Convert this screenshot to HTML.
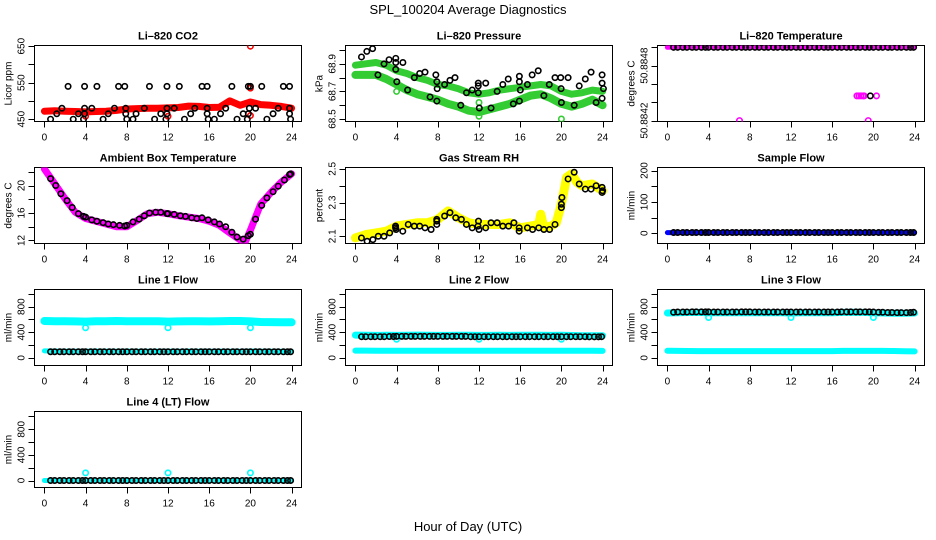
<!DOCTYPE html>
<html><head><meta charset="utf-8"><style>
html,body{margin:0;padding:0;background:#fff;}
svg{display:block;font-family:"Liberation Sans",Arial,sans-serif;}
</style></head><body>
<svg id="chart" width="936" height="540" viewBox="0 0 936 540">
<text x="468" y="14" text-anchor="middle" font-size="13">SPL_100204  Average Diagnostics</text>
<text x="468" y="531" text-anchor="middle" font-size="13">Hour of Day (UTC)</text>
</svg>
<script>
// ---------- data ----------
const xTicks = [0,4,8,12,16,20,24];
const hours25 = [0,1,2,3,4,5,6,7,8,9,10,11,12,13,14,15,16,17,18,19,20,21,22,23,24];
const blackHours = [0.6,1.0,1.5,1.9,2.4,2.8,3.3,3.7,4.0,4.5,
 4.9,5.4,5.8,6.3,6.7,7.2,7.6,8.0,8.5,8.9,
 9.4,9.8,10.3,10.7,11.2,11.6,12.0,12.5,12.9,13.4,
 13.8,14.3,14.7,15.2,15.6,16.0,16.5,16.9,17.4,17.8,
 18.3,18.7,19.2,19.6,20.0,20.5,20.9,21.4,21.8,22.3,
 22.7,23.2,23.6,23.9];

// CO2
const co2Band = [472,473,472,471,470,471,472,474,478,479,480,480,481,482,486,485,482,483,500,488,497,490,488,485,480];
const co2OutHours = [20,20,4,12,20];
const co2OutVals = [650,535,458,458,460];
const co2BlackHours = [2.3,3.9,5.1,7.2,7.8,10.2,11.9,13.1,15.3,15.8,18.2,19.8,20,21.1,23.2,23.8,
 1.7,3.9,4.6,6.8,7.9,9.7,11.9,12.6,14.6,15.8,17.6,19.9,20.5,22.7,23.8,
 1.2,3.3,3.9,6.2,7.9,8.9,11.3,11.9,14.2,15.8,17.1,19.3,19.8,22.2,23.8,
 0.6,2.8,3.8,5.7,8.0,8.6,10.7,11.8,13.6,15.9,16.5,18.7,19.7,21.6,23.9];
const co2BlackVals = [540,540,540,540,540,540,540,540,540,540,540,540,540,540,540,540,
 480,480,480,480,480,480,480,480,480,480,480,480,480,480,480,
 465,465,465,465,465,465,465,465,465,465,465,465,465,465,465,
 450,450,450,450,450,450,450,450,450,450,450,450,450,450,450];

// Pressure
const presUpper = [68.89,68.90,68.91,68.89,68.85,68.83,68.80,68.78,68.75,68.74,68.72,68.69,68.68,68.69,68.71,68.72,68.73,68.74,68.75,68.74,68.70,68.68,68.69,68.71,68.70];
const presLower = [68.82,68.82,68.82,68.79,68.75,68.71,68.68,68.66,68.64,68.61,68.59,68.56,68.55,68.57,68.59,68.61,68.64,68.67,68.68,68.65,68.61,68.59,68.61,68.64,68.60];
const presOutHours = [4.0,12.0,12.0,20.0];
const presOutVals = [68.70,68.62,68.52,68.50];
const presBlackHours = [0.59,1.11,1.67,2.19,2.78,3.27,3.92,3.92,3.92,4.02,4.61,5.07,5.72,6.24,6.76,7.25,7.81,7.91,7.91,7.94,
 8.66,9.18,9.67,10.23,10.78,11.34,11.93,11.93,11.93,12.03,12.65,13.17,13.76,14.31,14.84,15.33,15.92,15.92,15.92,16.01,
 16.70,17.16,17.75,18.30,18.82,19.38,19.93,19.97,20.0,20.65,21.24,21.73,22.32,22.88,23.37,23.95,23.95,23.95,24.08];
const presBlackVals = [68.95,68.99,69.01,68.82,68.90,68.93,68.91,68.94,68.86,68.77,68.91,68.71,68.80,68.83,68.84,68.66,68.82,68.77,68.63,68.72,
 68.75,68.78,68.80,68.60,68.69,68.71,68.76,68.74,68.69,68.58,68.76,68.58,68.70,68.75,68.79,68.61,68.81,68.77,68.63,68.71,
 68.75,68.82,68.85,68.67,68.75,68.80,68.80,68.72,68.62,68.80,68.60,68.74,68.79,68.84,68.62,68.82,68.76,68.65,68.72];

// Li-820 temperature
const tempBand = [50.8850,50.8850,50.8850,50.8850,50.8850,50.8850,50.8850,50.8850,50.8850,50.8850,50.8850,50.8850,50.8850,50.8850,50.8850,50.8850,50.8850,50.8850,50.8850,50.8850,50.8850,50.8850,50.8850,50.8850,50.8850];
const tempPinkHours = [18.4,18.6,18.8,19.0,19.1,20.3,7.0,19.5];
const tempPinkVals = [50.88447,50.88447,50.88447,50.88447,50.88447,50.88447,50.8842,50.8842];
const tempBlackVals = [50.8850,50.8850,50.8850,50.8850,50.8850,50.8850,50.8850,50.8850,50.8850,50.8850,
 50.8850,50.8850,50.8850,50.8850,50.8850,50.8850,50.8850,50.8850,50.8850,50.8850,
 50.8850,50.8850,50.8850,50.8850,50.8850,50.8850,50.8850,50.8850,50.8850,50.8850,
 50.8850,50.8850,50.8850,50.8850,50.8850,50.8850,50.8850,50.8850,50.8850,50.8850,
 50.8850,50.8850,50.8850,50.8850,50.8850,50.8850,50.8850,50.8850,50.8850,50.8850,
 50.8850,50.8850,50.8850,50.8850];
const tempBlackExtraHours = [19.7];
const tempBlackExtraVals = [50.88447];

// Ambient box temperature
const ambHours = [0,1,2,3,4,5,6,7,8,9,10,11,12,13,14,15,16,17,18,19,19.5,20,21,22,23,24];
const ambBand = [22.4,20.25,18.1,16.1,15.2,14.8,14.4,14.0,14.0,14.9,15.9,16.1,15.9,15.6,15.4,15.2,14.8,14.2,13.1,12.1,11.8,13.5,17.3,19.0,20.5,21.7];
const ambBlackHours = [0.6,1.1,1.6,2.2,2.7,3.3,3.8,4.0,4.6,5.1,5.7,6.2,6.7,7.3,7.8,8.0,8.6,9.2,9.7,10.2,10.8,11.3,11.9,12.0,12.6,13.2,13.7,14.3,14.8,15.3,15.9,16.5,17.0,17.6,18.2,18.7,19.3,19.8,20.0,20.5,21.1,21.6,22.2,22.7,23.3,23.8,23.9];
const ambBlackVals = [21.0,20.0,18.8,17.8,16.8,15.9,15.5,15.4,15.0,14.8,14.6,14.4,14.3,14.2,14.1,14.2,14.7,15.1,15.6,16.0,16.1,16.1,15.9,15.9,15.8,15.6,15.5,15.3,15.2,15.3,15.0,14.7,14.4,14.0,13.2,12.5,12.2,12.7,12.9,15.1,17.1,18.2,19.1,19.9,20.8,21.6,21.7];

// Gas stream RH
const rhHours = [0,1,2,3,4,5,6,7,8,9,10,11,12,13,14,15,16,17,17.8,18,18.3,19,19.5,20,20.5,21,21.5,22,23,24];
const rhBand = [2.09,2.11,2.12,2.13,2.16,2.17,2.18,2.18,2.20,2.25,2.21,2.18,2.17,2.17,2.17,2.18,2.15,2.16,2.17,2.23,2.15,2.16,2.18,2.29,2.45,2.47,2.42,2.40,2.41,2.37];
const rhBlackHours = [0.59,1.14,1.70,2.22,2.78,3.33,3.9,3.9,3.95,4.6,5.13,5.72,6.24,6.76,7.35,7.9,7.9,7.9,8.66,9.18,9.74,10.29,10.78,11.34,11.9,11.95,12.0,12.65,13.17,13.76,14.31,14.87,15.39,15.9,15.9,16.7,17.2,17.8,18.3,18.85,19.38,20.0,20.0,20.05,20.65,21.24,21.73,22.32,22.88,23.37,23.95,23.95,24.0];
const rhBlackVals = [2.09,2.07,2.08,2.10,2.10,2.12,2.15,2.16,2.14,2.13,2.17,2.16,2.16,2.15,2.14,2.20,2.19,2.17,2.22,2.24,2.21,2.20,2.17,2.15,2.16,2.19,2.14,2.15,2.18,2.18,2.16,2.16,2.18,2.15,2.13,2.15,2.14,2.15,2.14,2.14,2.17,2.27,2.29,2.33,2.44,2.48,2.41,2.38,2.38,2.40,2.39,2.36,2.37];

// Sample flow
const sampleBand = [2,2,2,2,2,2,2,2,2,2,2,2,2,2,2,2,2,2,2,2,2,2,2,2,2];
const sampleBlack = [2,2,2,2,2,2,2,2,2,2,2,2,2,2,2,2,2,2,2,2,2,2,2,2,2,2,2,2,2,2,2,2,2,2,2,2,2,2,2,2,2,2,2,2,2,2,2,2,2,2,2,2,2,2];

// Line flows
const line1High = [575,570,570,568,565,570,572,575,572,570,572,570,565,568,570,570,568,570,575,575,568,560,558,556,555];
const line1Low = [108,106,105,105,105,106,105,105,106,105,105,105,105,105,106,105,105,105,105,105,106,105,105,104,104];
const line1Black = [95,95,95,95,95,95,95,95,95,95,95,95,95,95,95,95,95,95,95,95,95,95,95,95,95,95,95,95,95,95,95,95,95,95,95,95,95,95,95,95,95,95,95,95,95,95,95,95,95,95,95,94,94,94];
const line1OutHours = [4,12,20];
const line1OutVals = [470,470,470];
const line2High = [355,352,350,352,350,352,355,352,350,350,352,352,350,350,352,350,352,352,352,350,352,348,346,345,345];
const line2Low = [112,112,110,110,110,110,110,110,110,110,110,110,110,110,110,110,110,110,110,110,110,110,110,110,108];
const line2Black = [330,330,330,330,330,330,332,332,335,335,335,335,335,335,335,335,335,335,335,335,335,335,335,335,330,330,330,330,330,330,330,330,330,330,330,330,330,330,330,330,330,330,330,330,330,330,330,330,330,330,328,328,328,330];
const line2OutHours = [4,12,20];
const line2OutVals = [290,290,290];
const line3High = [700,705,708,710,705,705,705,705,705,705,705,705,700,705,705,705,705,710,712,710,705,700,695,695,700];
const line3Low = [110,108,106,105,105,105,105,105,105,105,105,105,105,105,105,105,105,108,108,108,108,108,106,104,100];
const line3Black = [712,715,715,715,718,718,718,718,718,715,715,715,715,715,715,718,718,718,715,715,715,715,715,715,715,715,715,715,715,715,715,715,715,715,715,715,715,718,718,718,718,718,718,718,715,712,712,708,708,705,705,705,708,712];
const line3OutHours = [4,12,20];
const line3OutVals = [630,630,630];
const line4Band = [0,0,0,0,0,0,0,0,0,0,0,0,0,0,0,0,0,0,0,0,0,0,0,0,0];
const line4Black = [0,0,0,0,0,0,0,0,0,0,0,0,0,0,0,0,0,0,0,0,0,0,0,0,0,0,0,0,0,0,0,0,0,0,0,0,0,0,0,0,0,0,0,0,0,0,0,0,0,0,0,0,0,0];
const line4OutHours = [4,12,20];
const line4OutVals = [120,120,120];

// ---------- drawing ----------
const NS = 'http://www.w3.org/2000/svg';
const svg = document.getElementById('chart');
const colL = [34.5, 345.5, 657.5];
const rowT = [45.5, 167.5, 289.5, 411.5];
const W = 267, H = 76;

function mk(tag, attrs, parent) {
  const e = document.createElementNS(NS, tag);
  for (const k in attrs) e.setAttribute(k, attrs[k]);
  parent.appendChild(e);
  return e;
}

function panel(name, col, row, title, ylab, yTop, yBot, yTicks, yLabeled) {
  const L = colL[col], T = rowT[row];
  const g = mk('g', {}, svg);
  
  
  const sx = h => L + W * (h + 0.96) / 25.92;
  const sy = v => T + H * (yTop - v) / (yTop - yBot);
  const box = mk('rect', {x: L, y: T, width: W, height: H, fill: 'none', stroke: '#000', 'stroke-width': 1}, g);
  
  
  const tt = mk('text', {x: L + W / 2, y: T - 6, 'text-anchor': 'middle', 'font-size': 11, 'font-weight': 'bold'}, g);
  tt.textContent = title;
  
  
  const yl = mk('text', {x: 0, y: 0, 'text-anchor': 'middle', 'font-size': 10, transform: `translate(${L - 23},${T + H / 2}) rotate(-90)`}, g);
  yl.textContent = ylab;
  
  
  const xa = mk('g', {}, g);
  
  
  const B = T + H;
  xTicks.forEach(t => {
    const xx = Math.round(sx(t)) + 0.5;
    mk('line', {x1: xx, x2: xx, y1: B, y2: B + 6, stroke: '#000'}, xa);
    const tx = mk('text', {x: sx(t), y: B + 19, 'text-anchor': 'middle', 'font-size': 10}, xa);
    tx.textContent = String(t);
    
    
  });
  const ya = mk('g', {}, g);
  
  
  yTicks.forEach(t => {
    const yy = Math.round(sy(t)) + 0.5;
    mk('line', {x1: L - 6, x2: L, y1: yy, y2: yy, stroke: '#000'}, ya);
  });
  yLabeled.forEach(t => {
    const tx = mk('text', {x: 0, y: 0, 'text-anchor': 'middle', 'font-size': 10, transform: `translate(${L - 10},${sy(t)}) rotate(-90)`}, ya);
    tx.textContent = String(t);
    
    
  });
  const clipId = 'clip-' + name;
  const cp = mk('clipPath', {id: clipId}, g);
  mk('rect', {x: L, y: T, width: W, height: H}, cp);
  const plot = mk('g', {'clip-path': `url(#${clipId})`}, g);
  
  
  return {sx, sy, plot, name};
}

function band(p, hrs, vals, color, width, label) {
  const n = Math.min(hrs.length, vals.length);
  const pts = [];
  for (let i = 0; i < n; i++) pts.push(p.sx(hrs[i]).toFixed(1) + ',' + p.sy(vals[i]).toFixed(1));
  const pl = mk('polyline', {points: pts.join(' '), fill: 'none', stroke: color, 'stroke-width': width, 'stroke-linejoin': 'round', 'stroke-linecap': 'round'}, p.plot);
  
  
}

function circles(p, hrs, vals, color, label, r, sw) {
  const n = Math.min(hrs.length, vals.length);
  const gg = mk('g', {}, p.plot);
  
  
  for (let i = 0; i < n; i++) {
    const c = mk('circle', {cx: p.sx(hrs[i]), cy: p.sy(vals[i]), r: r || 2.7, fill: 'none', stroke: color, 'stroke-width': sw || 1.6}, gg);
    
    
  }
}

// Row 1
let p = panel('co2', 0, 0, 'Li\u2013820 CO2', 'Licor ppm', 651.9, 443.7, [450,500,550,600,650], [450,550,650]);
band(p, hours25, co2Band, '#ff0000', 7, 'co2-band');
circles(p, co2OutHours, co2OutVals, '#ff0000', 'co2-outliers');
circles(p, co2BlackHours, co2BlackVals, '#000', 'co2-averages');

p = panel('pressure', 1, 0, 'Li\u2013820 Pressure', 'kPa', 69.033, 68.482, [68.5,68.6,68.7,68.8,68.9,69.0], [68.5,68.7,68.9]);
band(p, hours25, presUpper, '#33cc33', 7, 'pressure-upper-band');
band(p, hours25, presLower, '#33cc33', 8, 'pressure-lower-band');
circles(p, presOutHours, presOutVals, '#33cc33', 'pressure-outliers');
circles(p, presBlackHours, presBlackVals, '#000', 'pressure-averages');

p = panel('li820-temp', 2, 0, 'Li\u2013820 Temperature', 'degrees C', 50.88502, 50.88419, [50.8842,50.8844,50.8846,50.8848,50.885], [50.8842,50.8848]);
band(p, hours25, tempBand, '#ff00ff', 5, 'temp-band');
circles(p, tempPinkHours, tempPinkVals, '#ff00ff', 'temp-pink-points');
circles(p, blackHours, tempBlackVals, '#000', 'temp-averages');
circles(p, tempBlackExtraHours, tempBlackExtraVals, '#000', 'temp-extra');

// Row 2
p = panel('ambient', 0, 1, 'Ambient Box Temperature', 'degrees C', 22.62, 11.56, [12,14,16,18,20,22], [12,16,20]);
band(p, ambHours, ambBand, '#ff00ff', 7, 'ambient-band');
circles(p, ambBlackHours, ambBlackVals, '#000', 'ambient-averages');

p = panel('rh', 1, 1, 'Gas Stream RH', 'percent', 2.508, 2.057, [2.1,2.2,2.3,2.4,2.5], [2.1,2.3,2.5]);
band(p, rhHours, rhBand, '#ffff00', 9, 'rh-band');
circles(p, rhBlackHours, rhBlackVals, '#000', 'rh-averages');

p = panel('sample-flow', 2, 1, 'Sample Flow', 'ml/min', 209.6, -32.9, [0,50,100,150,200], [0,100,200]);
band(p, hours25, sampleBand, '#0000ff', 5, 'sample-band');
circles(p, blackHours, sampleBlack, '#000', 'sample-averages');

// Row 3
const flowTicks = [0,200,400,600,800,1000], flowLab = [0,400,800];
p = panel('line1', 0, 2, 'Line 1 Flow', 'ml/min', 1067, -120, flowTicks, flowLab);
band(p, hours25, line1High, '#00ffff', 8, 'line1-high-band');
band(p, hours25, line1Low, '#00ffff', 5, 'line1-low-band');
circles(p, line1OutHours, line1OutVals, '#00ffff', 'line1-outliers');
circles(p, blackHours, line1Black, '#000', 'line1-averages');

p = panel('line2', 1, 2, 'Line 2 Flow', 'ml/min', 1067, -120, flowTicks, flowLab);
band(p, hours25, line2High, '#00ffff', 7, 'line2-high-band');
band(p, hours25, line2Low, '#00ffff', 6, 'line2-low-band');
circles(p, line2OutHours, line2OutVals, '#00ffff', 'line2-outliers');
circles(p, blackHours, line2Black, '#000', 'line2-averages');

p = panel('line3', 2, 2, 'Line 3 Flow', 'ml/min', 1067, -120, flowTicks, flowLab);
band(p, hours25, line3High, '#00ffff', 7, 'line3-high-band');
band(p, hours25, line3Low, '#00ffff', 6, 'line3-low-band');
circles(p, line3OutHours, line3OutVals, '#00ffff', 'line3-outliers');
circles(p, blackHours, line3Black, '#000', 'line3-averages');

// Row 4
p = panel('line4', 0, 3, 'Line 4 (LT) Flow', 'ml/min', 1078, -109, flowTicks, flowLab);
band(p, hours25, line4Band, '#00ffff', 5, 'line4-band');
circles(p, line4OutHours, line4OutVals, '#00ffff', 'line4-outliers');
circles(p, blackHours, line4Black, '#000', 'line4-averages');
</script>
</body></html>
